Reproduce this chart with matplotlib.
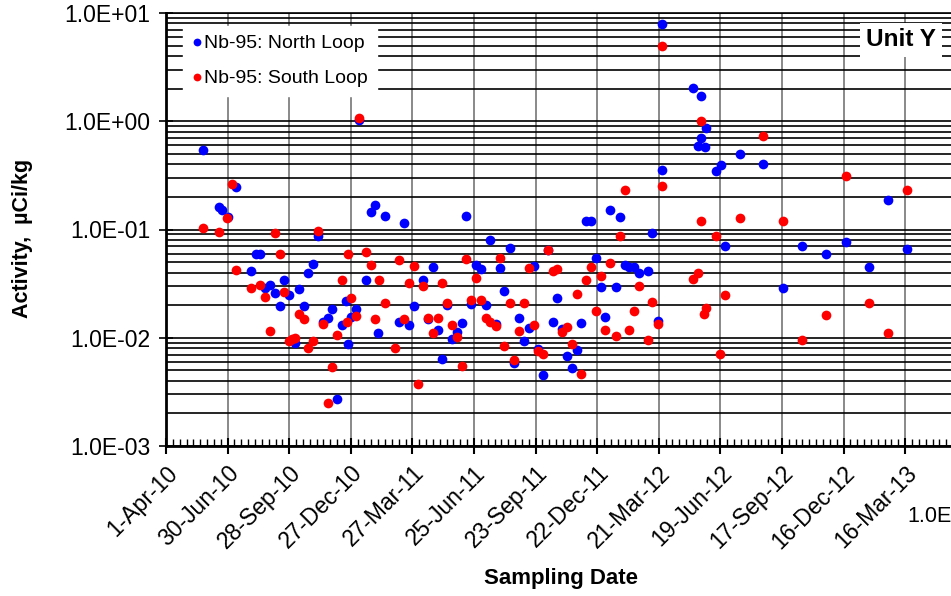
import matplotlib
matplotlib.use("Agg")
import matplotlib.pyplot as plt
import matplotlib.ticker as mticker
import pandas as pd

plt.rcParams['font.family'] = ['Liberation Sans', 'DejaVu Sans']

# sampling day = days since 1-Apr-2010
start = pd.Timestamp('2010-04-01')

north_days = [54, 282, 103, 78, 82, 90, 306, 299, 320, 348, 222, 132, 137, 215, 124, 208,
              173, 292, 145, 152, 159, 180, 194, 166, 201, 263, 278, 362, 243, 236, 229, 257,
              270, 310, 340, 355, 188, 266, 250,
              439, 474, 502, 558, 724, 649, 663, 614, 621, 710, 390, 453, 460, 488, 537, 628,
              635, 657, 670, 677, 684, 691, 705, 642, 719, 572, 376, 411, 446, 467, 494, 383,
              397, 425, 418, 432, 482, 516, 530, 566, 579, 607, 523, 544, 600, 586, 593, 404,
              509, 551,
              725, 770, 781, 789, 782, 777, 787, 838, 811, 804, 873, 1055, 817, 929, 964, 993,
              1083, 1027, 902]
north_vals = [0.54, 1.03, 0.245, 0.161, 0.152, 0.131, 0.167, 0.144, 0.134, 0.114, 0.088, 0.059,
              0.060, 0.048, 0.041, 0.040, 0.034, 0.034, 0.029, 0.031, 0.026, 0.025, 0.028, 0.0195,
              0.0195, 0.022, 0.0186, 0.0198, 0.0186, 0.0152, 0.0140, 0.0130, 0.0154, 0.0110,
              0.0141, 0.0131, 0.0089, 0.0088, 0.0027,
              0.133, 0.080, 0.067, 0.064, 0.352, 0.150, 0.130, 0.119, 0.120, 0.092, 0.045, 0.047,
              0.043, 0.044, 0.046, 0.054, 0.0295, 0.0297, 0.047, 0.045, 0.045, 0.040, 0.041,
              0.0156, 0.0142, 0.0231, 0.034, 0.0201, 0.0207, 0.0202, 0.0271, 0.0148, 0.0117,
              0.0113, 0.0097, 0.0137, 0.0134, 0.0153, 0.0124, 0.0139, 0.0120, 0.0138, 0.0093,
              0.0079, 0.0077, 0.0068, 0.0053, 0.0063, 0.0059, 0.0045,
              7.96, 2.02, 1.72, 0.867, 0.70, 0.59, 0.578, 0.495, 0.397, 0.347, 0.403, 0.188,
              0.071, 0.070, 0.060, 0.076, 0.066, 0.045, 0.0286]

south_days = [282, 97, 89, 54, 78, 159, 222, 166, 266, 292, 299, 340, 362, 103, 257, 311, 355,
              124, 137, 145, 173, 270, 320, 194, 201, 229, 264, 278, 306, 348, 152, 179, 184,
              188, 215, 208, 250, 334, 243, 236, 368,
              558, 724, 671, 663, 439, 453, 488, 530, 565, 572, 621, 649, 635, 614, 691, 710,
              684, 642, 628, 657, 677, 705, 719, 600, 376, 404, 411, 446, 460, 502, 523, 383,
              397, 390, 418, 425, 467, 474, 482, 516, 537, 579, 586, 494, 544, 551, 593, 607,
              509, 432,
              725, 781, 873, 993, 1083, 782, 838, 902, 803, 777, 770, 817, 789, 786, 1027, 964,
              929, 1055, 810]
south_vals = [1.08, 0.262, 0.128, 0.103, 0.095, 0.092, 0.097, 0.060, 0.060, 0.062, 0.047, 0.052,
              0.046, 0.042, 0.034, 0.034, 0.032, 0.029, 0.0305, 0.024, 0.0265, 0.0235, 0.021,
              0.0166, 0.0148, 0.0135, 0.0140, 0.0160, 0.0149, 0.0149, 0.0116, 0.0094, 0.0097,
              0.0099, 0.0094, 0.0080, 0.0106, 0.0080, 0.0054, 0.0025, 0.0037,
              0.065, 0.250, 0.230, 0.088, 0.053, 0.036, 0.055, 0.044, 0.041, 0.043, 0.045, 0.049,
              0.037, 0.034, 0.030, 0.0215, 0.0177, 0.0119, 0.0178, 0.0103, 0.0117, 0.0096,
              0.0134, 0.0252, 0.030, 0.032, 0.0211, 0.0223, 0.0225, 0.0211, 0.0211, 0.0152,
              0.0153, 0.0110, 0.0130, 0.0102, 0.0152, 0.0141, 0.0129, 0.0115, 0.0131, 0.0114,
              0.0127, 0.0084, 0.0076, 0.0071, 0.0088, 0.0046, 0.0062, 0.0055,
              4.92, 1.01, 0.731, 0.312, 0.230, 0.121, 0.128, 0.121, 0.087, 0.040, 0.035, 0.025,
              0.0187, 0.0166, 0.0211, 0.0163, 0.0095, 0.0111, 0.0071]

to_dates = lambda d: start + pd.to_timedelta(d, unit='D')

fig = plt.figure(figsize=(9.51, 5.96), dpi=100)
ax = fig.add_axes([166 / 951, 150 / 596, 785 / 951, 433 / 596])

ax.plot(to_dates(north_days), north_vals, 'o', color='#0000FF', ms=7, mew=0,
        label='Nb-95: North Loop', zorder=3)
ax.plot(to_dates(south_days), south_vals, 'o', color='#FF0000', ms=7, mew=0,
        label='Nb-95: South Loop', zorder=3)

ax.set_yscale('log')
ax.set_ylim(1e-3, 1e1)
ax.set_xlim(start, start + pd.Timedelta(days=1147))

# x ticks every 90 days, minor every 10 days
major_dates = [start + pd.Timedelta(days=90 * k) for k in range(13)]
ax.set_xticks(major_dates)
ax.set_xticklabels([f"{d.day}-{d.strftime('%b-%y')}" for d in major_dates],
                   rotation=45, ha='right', rotation_mode='anchor', fontsize=16.5)
ax.set_xticks([start + pd.Timedelta(days=10 * k) for k in range(115)], minor=True)
ax.tick_params(axis='x', which='major', direction='inout', length=12, width=1.5, pad=5)
ax.tick_params(axis='x', which='minor', direction='in', length=5, width=1)

ax.yaxis.set_major_locator(mticker.LogLocator(base=10, numticks=10))
ax.yaxis.set_minor_locator(mticker.LogLocator(base=10, subs=range(2, 10), numticks=20))
ax.yaxis.set_major_formatter(mticker.FuncFormatter(lambda v, p: f"{v:.1E}"))
ax.yaxis.set_minor_formatter(mticker.NullFormatter())
ax.tick_params(axis='y', which='major', direction='inout', length=10, width=1.2,
               labelsize=16.5, pad=6)
ax.tick_params(axis='y', which='minor', length=0)

ax.yaxis.grid(True, which='both', color='black', lw=1.2)
ax.xaxis.grid(True, which='major', color='#808080', lw=1.3)
ax.set_axisbelow(True)

ax.spines['left'].set_linewidth(2)
ax.spines['bottom'].set_linewidth(2)
ax.spines['right'].set_visible(False)
ax.spines['top'].set_linewidth(1.2)

ax.set_ylabel('Activity,  µCi/kg', fontsize=15.5, fontweight='bold')
ax.yaxis.set_label_coords(-133 / 785, 0.48)
ax.set_xlabel('Sampling Date', fontsize=16, fontweight='bold')
ax.xaxis.set_label_coords((561 - 166) / 785, -(568 - 446) / 433)

leg = ax.legend(loc='upper left', bbox_to_anchor=(17 / 785, (446 - 26) / 433),
                fontsize=14, frameon=True, fancybox=False, framealpha=1,
                facecolor='white', edgecolor='white', handlelength=0.5,
                handletextpad=0.15, labelspacing=0.9, borderpad=0.45, markerscale=0.8,
                borderaxespad=0)

ax.text((901 - 166) / 785, (446 - 40) / 433, 'Unit Y', fontsize=17.5, fontweight='bold',
        ha='center', va='center', transform=ax.transAxes,
        bbox=dict(facecolor='white', edgecolor='none', pad=4))

fig.text(907 / 951, 1 - 517 / 596, '1.0E', fontsize=15.5, ha='left', va='center')

fig.savefig('out.png', dpi=100)
